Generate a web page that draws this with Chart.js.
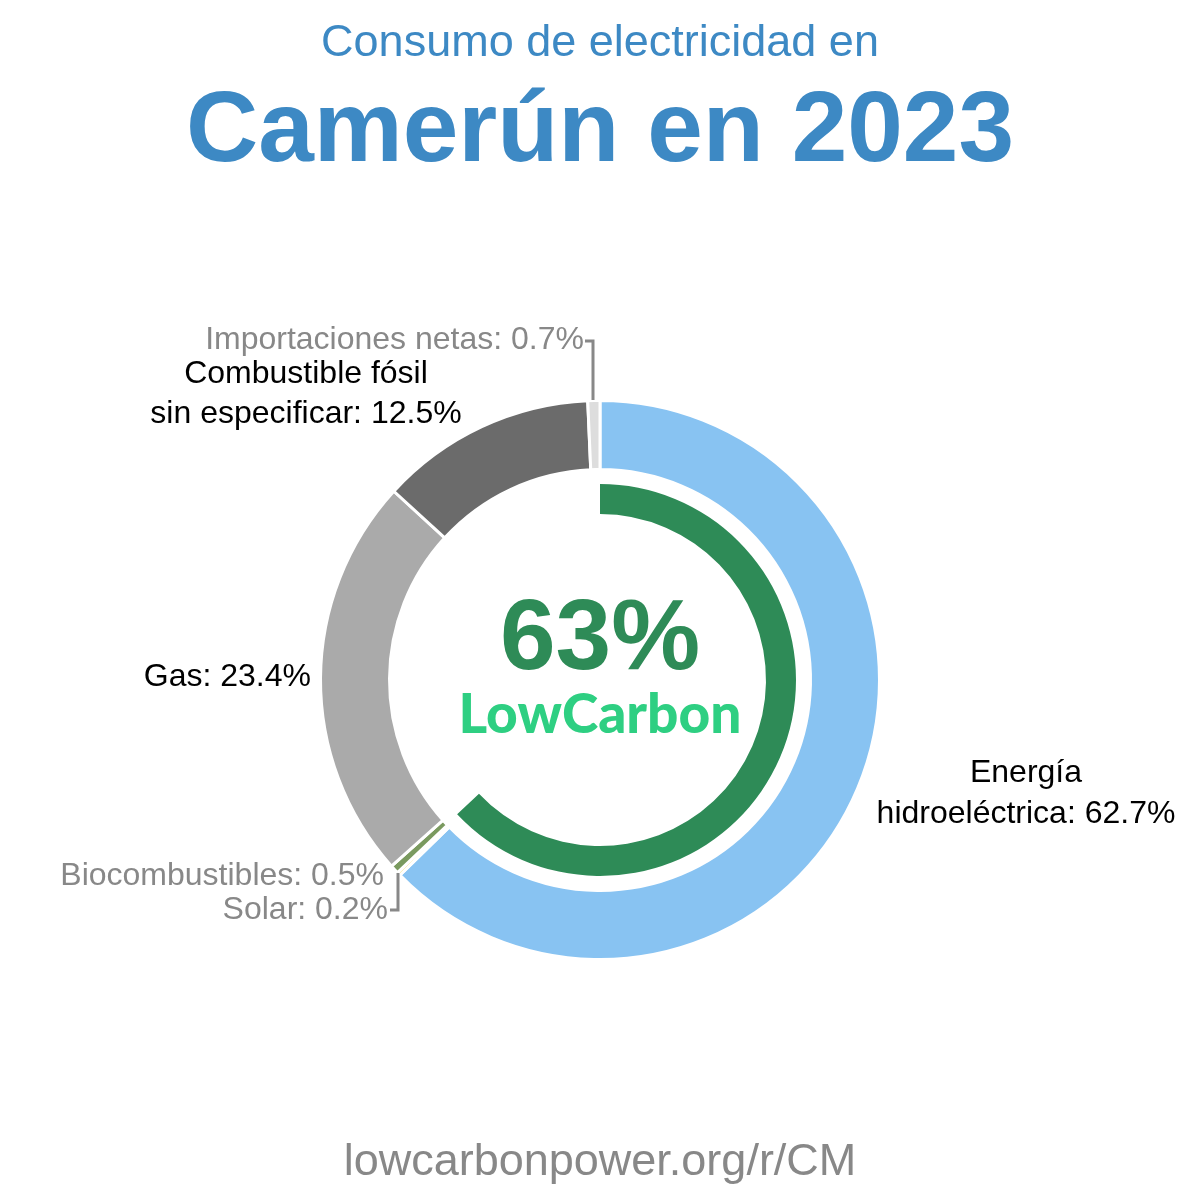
<!DOCTYPE html>
<html><head><meta charset="utf-8">
<script src="https://cdn.jsdelivr.net/npm/chart.js@4"></script>
<style>
html,body{margin:0;padding:0;background:#fff;}
canvas{position:absolute;left:0;top:0;}
</style></head><body>
<canvas id="c" width="1200" height="1200"></canvas>
<script>
const categories = ["Energía hidroeléctrica","Solar","Biocombustibles","Gas","Combustible fósil sin especificar","Importaciones netas"];
const values = [62.7, 0.2, 0.5, 23.4, 12.5, 0.7];
const colors = ["#88c3f2","#f4d03f","#7a9a5f","#aaaaaa","#6b6b6b","#dddddd"];
const lowCarbonShare = 63;
const subtitle = "Consumo de electricidad en";
const title = "Camerún en 2023";
const footer = "lowcarbonpower.org/r/CM";
const labelLines = [
  ["Energía","hidroeléctrica: 62.7%"],
  ["Solar: 0.2%"],
  ["Biocombustibles: 0.5%"],
  ["Gas: 23.4%"],
  ["Combustible fósil","sin especificar: 12.5%"],
  ["Importaciones netas: 0.7%"]
];

const F = '"Liberation Sans", Arial, sans-serif';
const labelPlugin = {
  id:'labels',
  afterDraw(chart){
    const ctx = chart.ctx;
    ctx.save();
    ctx.textAlign = 'center';
    ctx.textBaseline = 'alphabetic';
    ctx.fillStyle = '#3d89c4';
    ctx.font = '45px ' + F;
    ctx.fillText(subtitle, 600, 56);
    ctx.font = 'bold 100px ' + F;
    ctx.fillText(title, 600, 161);
    ctx.fillStyle = '#888';
    ctx.font = '45px ' + F;
    ctx.fillText(footer, 600, 1175);

    ctx.font = '32px ' + F;
    ctx.textBaseline = 'middle';
    ctx.fillStyle = '#000';
    ctx.textAlign = 'center';
    ctx.fillText(labelLines[0][0], 1026, 773);
    ctx.fillText(labelLines[0][1], 1026, 814);
    ctx.fillText(labelLines[4][0], 306, 374);
    ctx.fillText(labelLines[4][1], 306, 414);
    ctx.textAlign = 'right';
    ctx.fillText(labelLines[3][0], 311, 677);
    ctx.fillStyle = '#888';
    ctx.fillText(labelLines[5][0], 584, 340);
    ctx.fillText(labelLines[2][0], 384, 876);
    ctx.fillText(labelLines[1][0], 388, 910);
    ctx.strokeStyle = '#888';
    ctx.lineWidth = 3;
    ctx.beginPath();
    ctx.moveTo(585,341); ctx.lineTo(593,341); ctx.lineTo(593,400);
    ctx.moveTo(390,910); ctx.lineTo(398,910); ctx.lineTo(398,873);
    ctx.stroke();
    ctx.textAlign = 'center';
    ctx.textBaseline = 'alphabetic';
    ctx.fillStyle = '#2e8b57';
    ctx.font = 'bold 100px ' + F;
    ctx.fillText(lowCarbonShare + '%', 600, 669);
    ctx.fillStyle = '#2ecf82';
    ctx.font = '900 55px Lato, ' + F;
    ctx.fillText('LowCarbon', 600, 733);
    ctx.restore();
  }
};

new Chart(document.getElementById('c'), {
  type:'doughnut',
  data:{
    labels: categories,
    datasets:[
      {data: values, backgroundColor: colors, borderColor:'#fff', borderWidth:3, weight:69},
      {data:[100], backgroundColor:['rgba(0,0,0,0)'], borderWidth:0, weight:14.5},
      {data:[lowCarbonShare, 100-lowCarbonShare], backgroundColor:['#2e8b57','rgba(0,0,0,0)'], borderWidth:0, weight:30}
    ]
  },
  options:{
    responsive:false,
    animation:false,
    cutout: (166/279.5*100)+'%',
    layout:{padding:{left:319,right:319,top:399,bottom:239}},
    plugins:{legend:{display:false},tooltip:{enabled:false}}
  },
  plugins:[labelPlugin]
});
</script>
</body></html>
